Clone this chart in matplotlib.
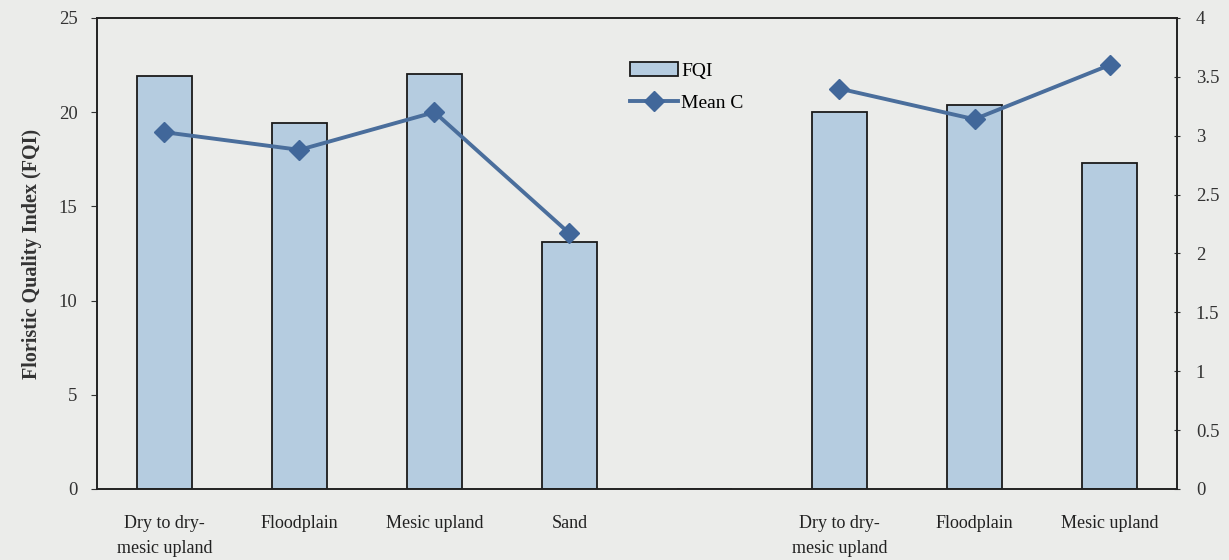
import numpy as np
import matplotlib
matplotlib.use("Agg")
import matplotlib.pyplot as plt

plt.rcParams['font.family'] = ['Liberation Serif', 'DejaVu Serif']

categories = ["Dry to dry-\nmesic upland", "Floodplain", "Mesic upland", "Sand", "",
              "Dry to dry-\nmesic upland", "Floodplain", "Mesic upland"]
fqi = [21.9, 19.4, 22.0, 13.1, np.nan, 20.0, 20.4, 17.3]
mean_c = [3.03, 2.88, 3.20, 2.17, np.nan, 3.40, 3.14, 3.60]

bg = "#ebecea"
bar_color = "#b5cce0"
line_color = "#4a6e9c"

fig = plt.figure(figsize=(12.29, 5.6), dpi=100, facecolor=bg)
ax = fig.add_axes([0.0789, 0.1268, 0.8788, 0.8411])
ax.set_facecolor(bg)
x = np.arange(len(categories))

bars = ax.bar(x, np.nan_to_num(fqi), width=0.41, color=bar_color,
              edgecolor="#1a1a1a", linewidth=1.3, label="FQI")
ax.set_xlim(-0.5, len(categories) - 0.5)
ax.set_ylim(0, 25)
ax.set_yticks([0, 5, 10, 15, 20, 25])
ax.set_xticks(x)
ax.set_xticklabels(categories, fontsize=13, color="#222222", linespacing=1.55)
ax.tick_params(axis='x', length=0, pad=19)
ax.tick_params(axis='y', labelsize=13.5, colors="#333333", length=4, pad=10)
ax.set_ylabel("Floristic Quality Index (FQI)", fontsize=14.5, fontweight='bold',
              color="#333333", labelpad=12)

ax2 = ax.twinx()
ax2.plot(x, mean_c, color=line_color, linewidth=2.8, marker='D', markersize=10,
         markerfacecolor="#41679a", markeredgecolor="#41679a", label="Mean C")
ax2.set_ylim(0, 4)
ax2.set_yticks([0, 0.5, 1, 1.5, 2, 2.5, 3, 3.5, 4])
ax2.set_yticklabels(["0", "0.5", "1", "1.5", "2", "2.5", "3", "3.5", "4"])
ax2.tick_params(axis='y', labelsize=13.5, colors="#333333", length=5,
                direction='inout', pad=11)

for a in (ax, ax2):
    for s in a.spines.values():
        s.set_color("#222222")
        s.set_linewidth(1.2)

h1, l1 = ax.get_legend_handles_labels()
h2, l2 = ax2.get_legend_handles_labels()
fig.legend(h1 + h2, l1 + l2, loc='upper left', bbox_to_anchor=(0.498, 0.92),
           frameon=False, fontsize=14, handlelength=2.5, handletextpad=0.15,
           labelspacing=0.75)

fig.savefig("out.png", dpi=100, facecolor=bg)
